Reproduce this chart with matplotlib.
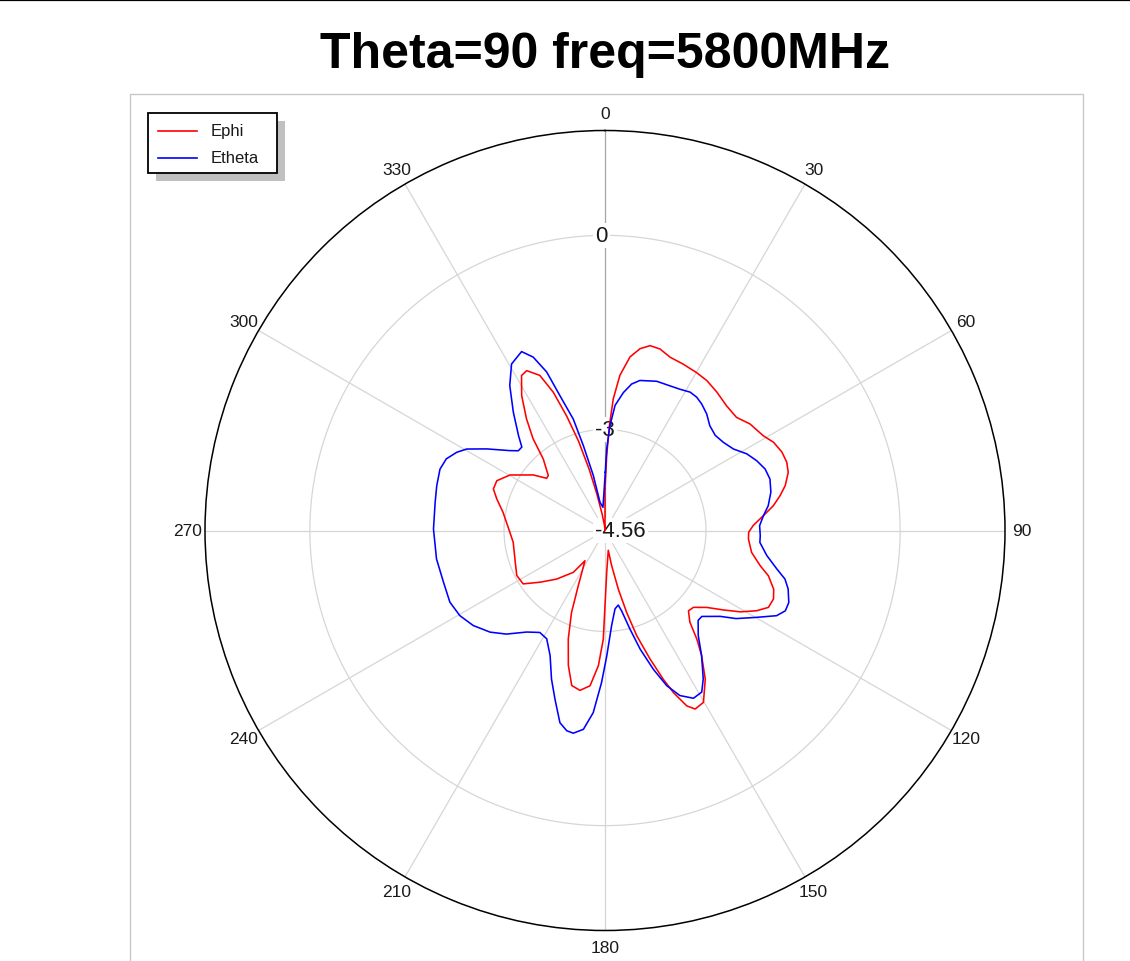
import numpy as np
import matplotlib
matplotlib.use("Agg")
import matplotlib.pyplot as plt
from matplotlib.patches import Rectangle
from matplotlib.lines import Line2D
from matplotlib.transforms import offset_copy

# ---------------- data ----------------
title = "Theta=90 freq=5800MHz"
series_names = ["Ephi", "Etheta"]
series_colors = ["#ff0000", "#0000ff"]

ephi_deg = [0.0, 1.3, 2.4, 3.6, 5.5, 8.2, 10.9, 13.7, 16.9, 20.6, 25.2, 30.1, 34.2,
            38.9, 44.3, 49.3, 53.7, 59.1, 62.4, 66.1, 69.4, 72.4, 76.0, 78.7, 81.6,
            84.6, 88.1, 90.7, 93.4, 98.5, 102.8, 105.5, 109.2, 112.1, 115.2, 117.9,
            121.0, 123.9, 127.1, 131.0, 133.9, 137.2, 139.8, 142.3, 146.0, 150.2,
            153.2, 155.0, 157.1, 158.6, 160.7, 163.2, 165.2, 167.2, 169.3, 170.6,
            177.7, 180.0, 180.9, 182.8, 185.5, 188.9, 192.1, 195.2, 198.7, 202.2,
            205.8, 213.5, 217.1, 224.9, 231.4, 236.9, 243.0, 250.6, 262.7, 268.9,
            280.1, 286.2, 290.4, 294.7, 300.3, 307.8, 311.8, 314.1, 319.2, 321.9,
            324.9, 328.3, 331.7, 333.9, 337.2, 339.5, 341.5, 343.5, 345.5, 347.5,
            350.0, 354.0, 358.5]
ephi_db = [-3.92, -3.40, -2.94, -2.52, -2.15, -1.85, -1.70, -1.62, -1.63, -1.70, -1.72,
           -1.74, -1.76, -1.81, -1.87, -1.88, -1.78, -1.71, -1.62, -1.57, -1.56, -1.59,
           -1.69, -1.80, -1.93, -2.10, -2.27, -2.34, -2.34, -2.27, -2.10, -1.94, -1.80,
           -1.75, -1.77, -1.91, -2.12, -2.36, -2.59, -2.75, -2.77, -2.63, -2.36, -2.12,
           -1.79, -1.50, -1.47, -1.57, -1.84, -2.09, -2.46, -2.86, -3.25, -3.63, -4.01,
           -4.25, -3.91, -3.40, -2.88, -2.47, -2.15, -2.06, -2.11, -2.40, -2.79, -3.19,
           -3.61, -4.00, -3.75, -3.50, -3.28, -3.05, -3.03, -3.09, -3.13, -3.09, -2.96,
           -2.82, -2.72, -2.72, -2.86, -3.16, -3.35, -3.34, -3.10, -2.76, -2.45, -2.11,
           -1.84, -1.81, -1.96, -2.28, -2.70, -3.12, -3.58, -3.99, -4.30, -4.48, -4.56]

etheta_deg = [0.3, 1.2, 2.7, 4.6, 7.6, 10.3, 13.1, 19.1, 24.2, 27.9, 31.6, 34.5, 37.4,
              41.1, 45.0, 49.2, 53.3, 57.6, 61.6, 65.3, 69.0, 72.7, 77.0, 81.4, 84.6,
              88.2, 91.9, 94.4, 98.8, 102.6, 105.1, 107.7, 111.4, 114.0, 116.4, 119.8,
              123.9, 126.7, 131.6, 134.0, 138.4, 142.3, 146.5, 149.1, 152.2, 155.6,
              158.3, 160.8, 163.5, 165.8, 168.3, 169.9, 172.7, 176.0, 179.2, 181.3,
              183.7, 186.2, 188.9, 190.8, 193.2, 196.5, 199.8, 203.7, 208.3, 212.6,
              217.6, 223.6, 228.5, 234.2, 239.6, 245.2, 252.3, 260.4, 270.5, 279.4,
              284.9, 290.4, 294.3, 297.8, 300.5, 304.6, 310.0, 312.6, 315.1, 317.6,
              322.2, 326.7, 330.7, 335.0, 337.5, 339.8, 341.5, 344.1, 345.7, 348.0,
              350.0, 355.0]
etheta_db = [-3.66, -3.30, -2.94, -2.62, -2.41, -2.26, -2.18, -2.12, -2.11, -2.09, -2.05,
             -2.06, -2.10, -2.17, -2.27, -2.31, -2.28, -2.21, -2.07, -1.98, -1.91, -1.89,
             -1.93, -2.01, -2.10, -2.17, -2.16, -2.16, -2.03, -1.84, -1.68, -1.59, -1.51,
             -1.51, -1.60, -1.86, -2.12, -2.34, -2.56, -2.56, -2.39, -2.12, -1.81, -1.65,
             -1.63, -1.76, -1.98, -2.29, -2.65, -2.99, -3.29, -3.39, -3.34, -3.09, -2.62,
             -2.21, -1.74, -1.47, -1.39, -1.41, -1.51, -1.84, -2.12, -2.45, -2.66, -2.69,
             -2.58, -2.35, -2.19, -2.05, -1.96, -1.92, -1.94, -1.92, -1.91, -1.90, -1.87,
             -1.84, -1.87, -1.97, -2.08, -2.34, -2.64, -2.74, -2.74, -2.58, -2.25, -1.88,
             -1.61, -1.51, -1.66, -1.95, -2.36, -2.77, -3.21, -3.69, -4.12, -4.20]

angle_ticks = list(range(0, 360, 30))
radial_ticks = [-4.56, -3, 0]
radial_tick_labels = ["-4.56", "-3", "0"]
r_min, r_max = -4.56, 1.62

# ---------------- figure ----------------
W, H = 1130, 962
fig = plt.figure(figsize=(W / 100, H / 100), dpi=100)
fig.patch.set_facecolor("white")


def fx(px):
    return px / W


def fy(py):
    return 1 - py / H


num_font = ["Liberation Sans", "DejaVu Sans"]

# top border line and plot frame
fig.add_artist(Line2D([0, 1], [fy(0.8), fy(0.8)], color="black", lw=1.6,
                      transform=fig.transFigure))
fig.add_artist(Rectangle((fx(130), fy(970)), fx(1083) - fx(130), fy(95) - fy(970),
                         fill=False, edgecolor="#c8c8c8", lw=1.0,
                         transform=fig.transFigure))

# title
fig.text(fx(605), fy(68), title, ha="center", va="baseline", fontsize=36,
         fontweight="bold", family=["Liberation Sans", "DejaVu Sans"])

# polar axes
cx, cy, R = 605, 531.5, 400
ax = fig.add_axes([fx(cx - R), fy(cy + R), 2 * R / W, 2 * R / H], projection="polar")
ax.set_theta_zero_location("N")
ax.set_theta_direction(-1)
ax.set_ylim(r_min, r_max)
ax.set_xticks([])
ax.set_yticks([])
ax.grid(False)
ax.set_facecolor("none")
ax.spines["polar"].set_color("black")
ax.spines["polar"].set_linewidth(1.1)

px_per_unit = R / (r_max - r_min)

th = np.linspace(0, 2 * np.pi, 721)
for v in radial_ticks[1:]:
    ax.plot(th, np.full_like(th, v), color="#d6d6d6", lw=0.9, zorder=1)
for a in angle_ticks:
    ax.plot([np.deg2rad(a)] * 2, [r_min, r_max],
            color="#a6a6a6" if a == 0 else "#d6d6d6", lw=0.9, zorder=1)

for a in angle_ticks:
    ax.text(np.deg2rad(a), r_max + 17 / px_per_unit, str(a), ha="center", va="center",
            fontsize=12.5, family=num_font, color="#1a1a1a", clip_on=False)

lab_tr = offset_copy(ax.transData, fig=fig, x=-10, y=0, units="dots")
for v, s in zip(radial_ticks, radial_tick_labels):
    ax.text(0, v, s, transform=lab_tr, ha="left", va="center", fontsize=16,
            family=num_font, color="#1a1a1a", zorder=2,
            bbox=dict(boxstyle="square,pad=0.1", fc="white", ec="none"))

for deg, db, col, name in [(ephi_deg, ephi_db, series_colors[0], series_names[0]),
                           (etheta_deg, etheta_db, series_colors[1], series_names[1])]:
    t = np.deg2rad(np.array(deg + [deg[0] + 360.0]))
    r = np.array(db + [db[0]])
    ax.plot(t, r, color=col, lw=1.15, zorder=3, label=name, solid_joinstyle="round")

# legend (drawn as a framed box with drop shadow)
lx0, ly0, lx1, ly1 = 148, 114, 277, 174
fig.add_artist(Rectangle((fx(lx0 + 8), fy(ly1 + 8)), fx(lx1 - lx0), fy(ly0) - fy(ly1),
                         facecolor="#c0c0c0", edgecolor="none", transform=fig.transFigure))
fig.add_artist(Rectangle((fx(lx0), fy(ly1)), fx(lx1 - lx0), fy(ly0) - fy(ly1),
                         facecolor="white", edgecolor="black", lw=1.3,
                         transform=fig.transFigure))
for i, (name, col) in enumerate(zip(series_names, series_colors)):
    yy = 131.5 + 27 * i
    fig.add_artist(Line2D([fx(158), fx(197)], [fy(yy), fy(yy)], color=col, lw=1.2,
                          transform=fig.transFigure))
    fig.text(fx(211), fy(yy), name, ha="left", va="center", fontsize=12,
             family=num_font, color="#1a1a1a")

fig.savefig("out.png", dpi=100, facecolor="white")
